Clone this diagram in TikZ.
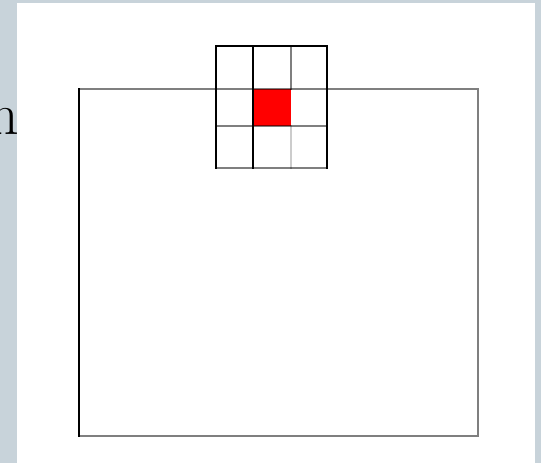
\documentclass[tikz,border=0pt]{standalone}
\usepackage{tikz}
\usetikzlibrary{calc}
\definecolor{panelbg}{RGB}{200,211,218}
\definecolor{hitred}{RGB}{255,0,0}

\begin{document}
\begin{tikzpicture}[
  x=0.02cm, y=-0.02cm,
  line cap=rect,
  solidln/.style={draw=black, line width=1.5pt},
  halfln/.style={draw=black, draw opacity=0.5, line width=1.5pt},
  faintln/.style={draw=black, draw opacity=0.2, line width=1.5pt},
  hitcell/.style={fill=hitred},
  cutlabel/.style={font=\fontsize{34}{40}\selectfont, anchor=base east, inner sep=0pt}
]
\useasboundingbox (0,0) rectangle (541,463);

% =========================================================================
% Pozadie a panel
% =========================================================================
\fill[panelbg] (0,0) rectangle (541,463);
\node[cutlabel] (lbl) at (19,134) {n};
\fill[white] (17,3) rectangle (535,463);

% Mriežka (rohy buniek)
\coordinate (g00) at (216,46);
\coordinate (g33) at (327,168);

% Zasiahnutá bunka
\fill[hitcell] (253,89) rectangle (291,126);

% =========================================================================
% Veľký obdĺžnik
% =========================================================================
\draw[halfln] (79,89) -- (478,89) -- (478,436) -- (79,436);
\draw[solidln] (79,89) -- (79,436);

% =========================================================================
% Mriežka 3x3
% =========================================================================
% zvislé čiary
\draw[solidln] (g00) -- (g00 |- g33);
\draw[solidln] (253,46) -- (253,168);
\draw[solidln] (g33 |- g00) -- (g33);
\draw[halfln] (291,46) -- (291,89);
\draw[faintln] (291,126) -- (291,168);

% vodorovné čiary
\draw[solidln] (g00) -- (g33 |- g00);
\draw[halfln] (216,126) -- (327,126);
\draw[halfln] (g00 |- g33) -- (g33);

\end{tikzpicture}
\end{document}
